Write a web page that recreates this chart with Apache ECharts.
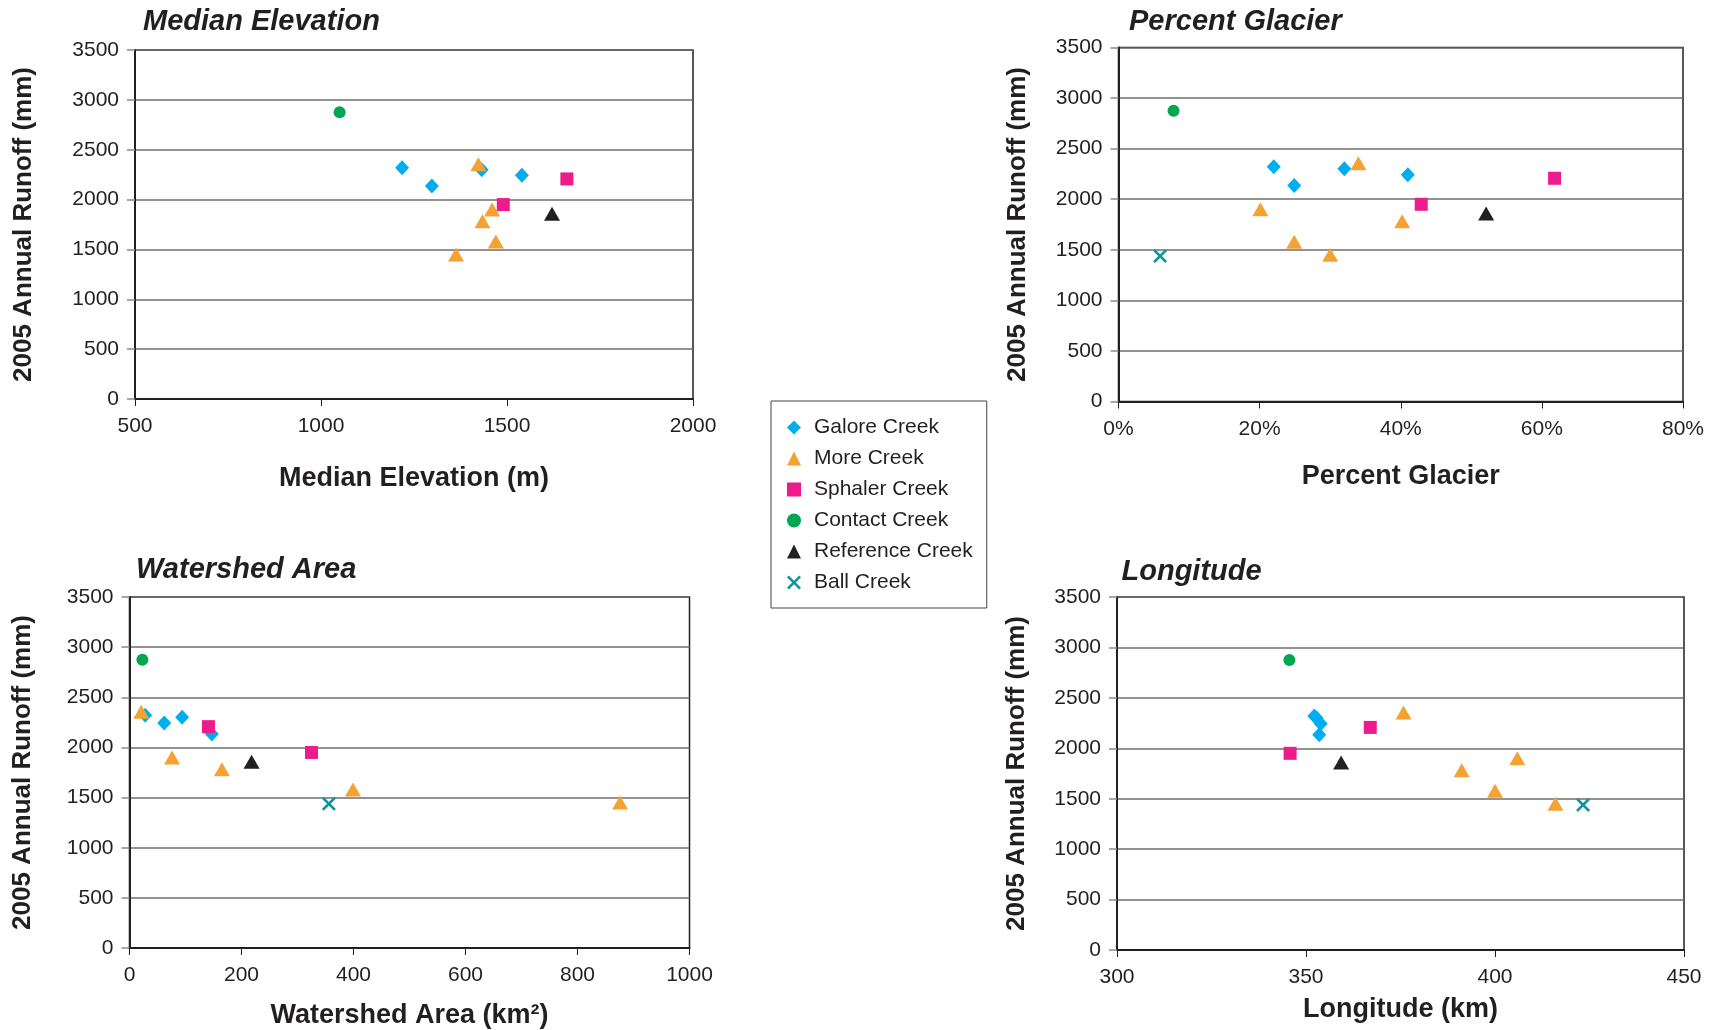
<!DOCTYPE html>
<html>
<head>
<meta charset="utf-8">
<script src="https://cdn.jsdelivr.net/npm/echarts@6/dist/echarts.min.js"></script>
<style>
  html, body { margin: 0; padding: 0; background: #ffffff; }
  #chart { width: 1724px; height: 1030px; }
</style>
</head>
<body>
<div id="chart"></div>
<script>
// ---------- DATA ----------
const creekNames = ['Galore Creek', 'More Creek', 'Sphaler Creek', 'Contact Creek', 'Reference Creek', 'Ball Creek'];
const panelTitles = ['Median Elevation', 'Percent Glacier', 'Watershed Area', 'Longitude'];
const xAxisTitles = ['Median Elevation (m)', 'Percent Glacier', 'Watershed Area (km²)', 'Longitude (km)'];
const yAxisTitle = '2005 Annual Runoff (mm)';

// 2005 annual runoff (mm) per station
const galoreRunoff    = [2320, 2135, 2300, 2243];
const moreRunoff      = [2355, 1900, 1783, 1580, 1450];
const sphalerRunoff   = [1950, 2207];
const contactRunoff   = [2875];
const referenceRunoff = [1858];
const ballRunoff      = [1438];

// median elevation (m)
const galoreElevation    = [1218, 1298, 1432, 1540];
const moreElevation      = [1423, 1460, 1434, 1470, 1363];
const sphalerElevation   = [1490, 1661];
const contactElevation   = [1050];
const referenceElevation = [1621];
const ballElevation      = [null];

// percent glacier (%)
const galoreGlacier    = [22.0, 24.9, 32.0, 41.0];
const moreGlacier      = [34.0, 20.1, 40.2, 24.9, 30.0];
const sphalerGlacier   = [42.9, 61.8];
const contactGlacier   = [7.8];
const referenceGlacier = [52.1];
const ballGlacier      = [5.9];

// watershed area (km²)
const galoreArea    = [28, 147, 94, 62];
const moreArea      = [21, 76, 165, 399, 876];
const sphalerArea   = [325, 141];
const contactArea   = [23];
const referenceArea = [218];
const ballArea      = [356];

// longitude (km)
const galoreLongitude    = [352.2, 353.5, 352.8, 353.9];
const moreLongitude      = [375.8, 405.9, 391.2, 400.0, 416.0];
const sphalerLongitude   = [345.8, 367.0];
const contactLongitude   = [345.6];
const referenceLongitude = [359.3];
const ballLongitude      = [423.3];

// axis ranges
const xMins = [500, 0, 0, 300];
const xMaxs = [2000, 80, 1000, 450];
const xIntervals = [500, 20, 200, 50];
const yMin = 0, yMax = 3500, yInterval = 500;

// ---------- STYLE ----------
const runoffs = [galoreRunoff, moreRunoff, sphalerRunoff, contactRunoff, referenceRunoff, ballRunoff];
const xVars = [
  [galoreElevation, moreElevation, sphalerElevation, contactElevation, referenceElevation, ballElevation],
  [galoreGlacier, moreGlacier, sphalerGlacier, contactGlacier, referenceGlacier, ballGlacier],
  [galoreArea, moreArea, sphalerArea, contactArea, referenceArea, ballArea],
  [galoreLongitude, moreLongitude, sphalerLongitude, contactLongitude, referenceLongitude, ballLongitude]
];
const xPath = 'path://M0,1.6 L1.6,0 L6,4.4 L10.4,0 L12,1.6 L7.6,6 L12,10.4 L10.4,12 L6,7.6 L1.6,12 L0,10.4 L4.4,6 Z';
const symbols = ['diamond', 'triangle', 'rect', 'circle', 'triangle', xPath];
const sizes = [[14, 15], [16, 14], [13, 13], [12, 12], [16, 14], [14, 14]];
const colors = ['#00AEEF', '#F5A233', '#EC1C8C', '#00A650', '#231F20', '#12959A'];

const FONT = "'Liberation Sans', Arial, Helvetica, sans-serif";
const grids = [
  { left: 135, top: 50, width: 558, height: 349 },
  { left: 1118.5, top: 47.5, width: 564.5, height: 354 },
  { left: 129.5, top: 597, width: 560, height: 351 },
  { left: 1117, top: 597, width: 567, height: 353 }
];
const titlePos = [[143, 7], [1129, 7], [136, 555], [1121.5, 557]];
const yNameGaps = [98, 88, 94, 87];
const xNameGaps = [66, 62, 54, 46];

function pairs(xs, ys) {
  const out = [];
  for (let i = 0; i < xs.length; i++) {
    if (xs[i] !== null && xs[i] !== undefined) out.push([xs[i], ys[i]]);
  }
  return out;
}

const option = {
  animation: false,
  backgroundColor: '#ffffff',
  title: panelTitles.map((t, i) => ({
    text: t,
    left: titlePos[i][0],
    top: titlePos[i][1],
    padding: 0,
    textStyle: { fontFamily: FONT, fontSize: 29, fontWeight: 'bold', fontStyle: 'italic', color: '#231F20' }
  })),
  legend: {
    orient: 'vertical',
    left: 771,
    top: 401,
    padding: [16, 14, 15, 16],
    itemWidth: 14,
    itemHeight: 14,
    itemGap: 10,
    selectedMode: false,
    borderColor: '#444',
    borderWidth: 1,
    data: creekNames,
    textStyle: { fontFamily: FONT, fontSize: 21, color: '#231F20', padding: [0, 0, 0, 8] }
  },
  grid: grids.map(g => Object.assign({ show: true, borderColor: '#231F20', borderWidth: 1.5, backgroundColor: '#fff' }, g)),
  xAxis: grids.map((g, i) => ({
    type: 'value',
    gridIndex: i,
    min: xMins[i],
    max: xMaxs[i],
    interval: xIntervals[i],
    name: xAxisTitles[i],
    nameLocation: 'middle',
    nameGap: xNameGaps[i],
    nameTextStyle: { fontFamily: FONT, fontSize: 27, fontWeight: 'bold', color: '#231F20' },
    axisLine: { show: true, onZero: false, lineStyle: { color: '#231F20', width: 2 } },
    axisTick: { show: true, inside: false, length: 7, lineStyle: { color: '#231F20', width: 1 } },
    axisLabel: {
      margin: 17,
      fontFamily: FONT,
      fontSize: 21,
      color: '#231F20',
      formatter: i === 1 ? (v => String(v) + '%') : (v => String(v))
    },
    splitLine: { show: false }
  })),
  yAxis: grids.map((g, i) => ({
    type: 'value',
    gridIndex: i,
    min: yMin,
    max: yMax,
    interval: yInterval,
    name: yAxisTitle,
    nameLocation: 'middle',
    nameRotate: 90,
    nameGap: yNameGaps[i],
    nameTextStyle: { fontFamily: FONT, fontSize: 26, fontWeight: 'bold', color: '#231F20' },
    axisLine: { show: true, onZero: false, lineStyle: { color: '#231F20', width: 2 } },
    axisTick: { show: true, inside: false, length: 8, lineStyle: { color: '#8a8a8a', width: 1.5 } },
    axisLabel: { margin: 16, fontFamily: FONT, fontSize: 21, color: '#231F20', formatter: v => String(v) },
    splitLine: { show: true, lineStyle: { color: '#6e6e6e', width: 1.5 } }
  })),
  series: []
};

for (let p = 0; p < 4; p++) {
  for (let s = 0; s < creekNames.length; s++) {
    option.series.push({
      type: 'scatter',
      name: creekNames[s],
      xAxisIndex: p,
      yAxisIndex: p,
      symbol: symbols[s],
      symbolSize: sizes[s],
      itemStyle: { color: colors[s], opacity: 1 },
      emphasis: { disabled: true },
      data: pairs(xVars[p][s], runoffs[s])
    });
  }
}

const chart = echarts.init(document.getElementById('chart'), null, { renderer: 'canvas' });
chart.setOption(option);
</script>
</body>
</html>
